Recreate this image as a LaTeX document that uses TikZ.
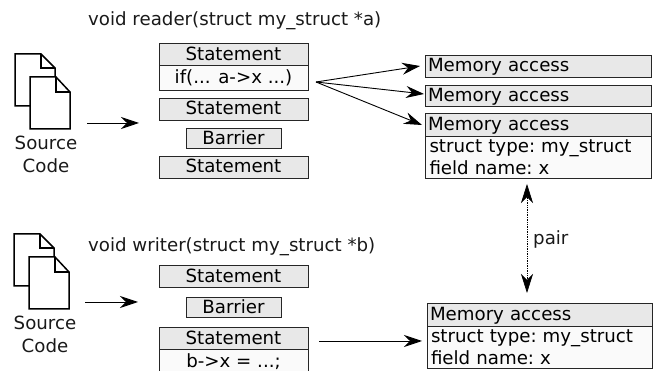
\documentclass[tikz,border=0pt]{standalone}
\usepackage{fontspec}
\setmainfont{DejaVu Sans}
\usetikzlibrary{arrows.meta}
\tikzset{
  base/.style={draw=black!85,line width=0.9pt,inner sep=0pt,outer sep=0pt,font=\fontsize{18.2pt}{22pt}\selectfont\frenchspacing},
  gbox/.style={base,fill=black!9},
  hbox/.style={gbox,text height=14pt,text depth=2.6pt},
  wbox/.style={base,fill=black!2},
  lbl/.style={font=\fontsize{18.2pt}{23pt}\selectfont\frenchspacing,inner sep=0pt,text=black!90},
  conn/.style={line width=0.9pt,-{Stealth[length=18pt,width=12pt,inset=6pt]}},
  pairc/.style={line width=0.7pt,densely dotted,{Stealth[length=19pt,width=12pt,inset=6pt]}-{Stealth[length=19pt,width=12pt,inset=6pt]}},
  docpage/.style={draw=black,line width=1.5pt,fill=white,line join=miter}
}
\newcommand{\boxat}[7]{% name style x0 y0 x1 y1 text
  \node[#2,minimum width=#5pt-#3pt,minimum height=#6pt-#4pt,align=center] (#1) at ({(#3+#5)/2},{(#4+#6)/2}) {#7};}
\newcommand{\leftboxat}[7]{%
  \node[#2,minimum width=#5pt-#3pt,minimum height=#6pt-#4pt,align=left,text width=#5pt-#3pt-6pt] (#1) at ({(#3+#5)/2},{(#4+#6)/2}) {#7};}
\newcommand{\docicon}[2]{%
  \begin{scope}[shift={(#1,#2)}]
    \draw[docpage] (15,106) -- (15,54) -- (41,54) -- (55,68) -- (55,106) -- cycle;
    \draw[line width=1.5pt] (41,54) -- (41,68) -- (55,68);
    \draw[docpage] (30,129) -- (30,77) -- (56,77) -- (70,92) -- (70,129) -- cycle;
    \draw[line width=1.5pt] (56,77) -- (56,92) -- (70,92);
  \end{scope}}
\begin{document}
\begin{tikzpicture}[x=1pt,y=-1pt]
\useasboundingbox (0,0) rectangle (654,371);
\clip (0,0) rectangle (654,371);
\docicon{0}{0}
\docicon{-1}{180}
\node[lbl,align=center] (src1) at (46,154.5) {Source\\Code};
\node[lbl,align=center] (src2) at (45,334.5) {Source\\Code};
\node[lbl,anchor=west] (title1) at (88,21) {void reader(struct my\_struct *a)};
\node[lbl,anchor=west] (title2) at (88,247) {void writer(struct my\_struct *b)};
% reader stack
\boxat{r1}{gbox}{159}{43}{308}{65}{Statement}
\boxat{r2}{wbox,font=\fontsize{18.2pt}{22pt}\selectfont\nonfrenchspacing}{159}{65}{308}{90}{if(... a->x ...)}
\boxat{r3}{gbox,text height=13pt,text depth=1pt}{159}{98}{308}{120}{Statement}
\boxat{r4}{gbox}{186}{128}{281}{148}{Barrier}
\boxat{r5}{gbox,text height=13pt,text depth=1pt}{159}{156}{308}{178}{Statement}
% writer stack
\boxat{w1}{gbox}{159}{265}{308}{287}{Statement}
\boxat{w2}{gbox}{186}{297}{281}{317}{Barrier}
\boxat{w3}{gbox}{159}{327}{308}{349}{Statement}
\boxat{w4}{wbox}{159}{349}{308}{375}{b->x = ...;}
% memory
\leftboxat{m1}{hbox}{425}{55}{651}{77}{Memory access}
\leftboxat{m2}{hbox}{425}{85}{651}{106}{Memory access}
\leftboxat{m3}{hbox}{425}{113}{651}{136}{Memory access}
\leftboxat{m4}{wbox,xshift=0pt}{425}{136}{651}{178}{\hspace*{1.5pt}struct type: my\_struct\\\hspace*{1.5pt}field name: x}
\leftboxat{m5}{hbox}{427}{303}{652}{326}{Memory access}
\leftboxat{m6}{wbox}{427}{326}{652}{368}{\hspace*{1pt}struct type: my\_struct\\\hspace*{1pt}field name: x}
% connector ends
\coordinate (a0) at (316,82);
\coordinate (a1) at (420,66);
\coordinate (a2) at (424,94);
\coordinate (a3) at (422,125);
\coordinate (s1a) at (87,123);
\coordinate (s1b) at (139,123);
\coordinate (s2a) at (85,302);
\coordinate (s2b) at (138,302);
\coordinate (w3a) at (319,341);
\coordinate (w3b) at (422,341);
\coordinate (pa) at (527,184);
\coordinate (pb) at (527,293);
\draw[conn] (a0) -- (a1);
\draw[conn] (a0) -- (a2);
\draw[conn] (a0) -- (a3);
\draw[conn] (s1a) -- (s1b);
\draw[conn] (s2a) -- (s2b);
\draw[conn] (w3a) -- (w3b);
\draw[pairc] (pa) -- (pb);
\node[lbl,anchor=west] (pairlbl) at (533,239) {pair};
\end{tikzpicture}
\end{document}
